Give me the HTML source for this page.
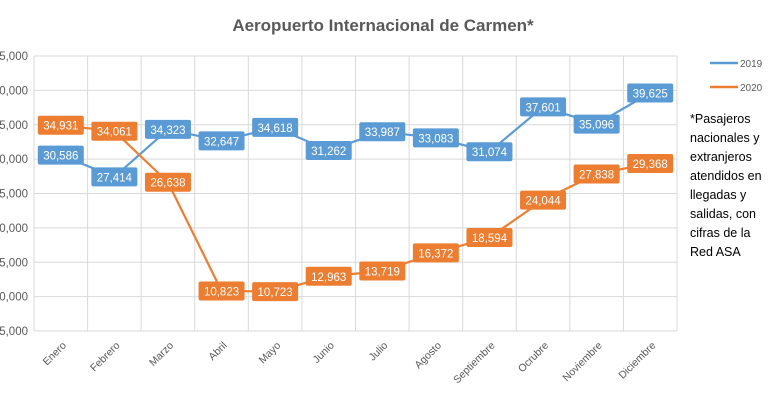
<!DOCTYPE html>
<html><head><meta charset="utf-8"><style>
body{margin:0;background:#fff;font-family:"Liberation Sans",sans-serif}
svg text{font-family:"Liberation Sans",sans-serif}
</style></head><body>
<svg width="768" height="400" id="c">
<text x="383" y="31" text-anchor="middle" font-size="17" font-weight="bold" fill="#595959">Aeropuerto  Internacional  de  Carmen*</text>
<g id="grid"></g><g id="lines"></g><g id="labels"></g>
<g>
<line x1="710" y1="63" x2="738" y2="63" stroke="#5b9bd5" stroke-width="2.5"/>
<text x="740" y="67" font-size="10" fill="#595959">2019</text>
<line x1="710" y1="87" x2="738" y2="87" stroke="#ed7d31" stroke-width="2.5"/>
<text x="740" y="91" font-size="10" fill="#595959">2020</text>
</g>
<g font-size="12.5" fill="#000">
<text x="690" y="123">*Pasajeros</text><text x="690" y="142">nacionales y</text>
<text x="690" y="161">extranjeros</text><text x="690" y="180">atendidos en</text>
<text x="690" y="199">llegadas y</text><text x="690" y="218">salidas, con</text>
<text x="690" y="237">cifras de la</text><text x="690" y="256">Red ASA</text>
</g>
</svg>
<script>
const months=["Enero","Febrero","Marzo","Abril","Mayo","Junio","Julio","Agosto","Septiembre","Ocrubre","Noviembre","Diciembre"];
const s2019=[30586,27414,34323,32647,34618,31262,33987,33083,31074,37601,35096,39625];
const s2020=[34931,34061,26638,10823,10723,12963,13719,16372,18594,24044,27838,29368];
const yTicks=[5000,10000,15000,20000,25000,30000,35000,40000,45000];
const NS="http://www.w3.org/2000/svg";
const L=34,R=677,T=56,B=331,ymin=5000,ymax=45000;
const bw=(R-L)/months.length;
const x=i=>L+bw*(i+0.5);
const y=v=>B-(v-ymin)/(ymax-ymin)*(B-T);
function mk(t,a,p,txt){const e=document.createElementNS(NS,t);for(const k in a)e.setAttribute(k,a[k]);if(txt!=null)e.textContent=txt;p.appendChild(e);return e;}
const g=document.getElementById('grid'),gl=document.getElementById('lines'),gb=document.getElementById('labels');
yTicks.forEach(v=>{
 const l=mk('line',{x1:L,x2:R,y1:y(v),y2:y(v),stroke:'#d9d9d9','stroke-width':1},g);
 
 
 const t=mk('text',{x:28,y:y(v)+4,'text-anchor':'end','font-size':11.5,fill:'#595959'},g,v.toLocaleString('en-US'));
 
 
});
for(let i=0;i<=months.length;i++){
 const l=mk('line',{x1:L+bw*i,x2:L+bw*i,y1:T,y2:B,stroke:'#d9d9d9','stroke-width':1},g);
 
 
}
months.forEach((m,i)=>{
 const t=mk('text',{x:x(i)+6,y:B+15,'text-anchor':'end','font-size':10.5,fill:'#595959',transform:`rotate(-45 ${x(i)+6} ${B+15})`},g,m);
 
 
});
[[s2019,'#5b9bd5','2019'],[s2020,'#ed7d31','2020']].forEach(([d,c,n])=>{
 const p=mk('polyline',{points:d.map((v,i)=>x(i)+','+y(v)).join(' '),fill:'none',stroke:c,'stroke-width':2.2},gl);
 
 
 d.forEach((v,i)=>{
  const r=mk('rect',{x:x(i)-23,y:y(v)-9.5,width:46,height:19,rx:2,fill:c},gb);
  
  
  const t=mk('text',{x:x(i),y:y(v)+4.5,'text-anchor':'middle','font-size':11.5,fill:'#fff'},gb,v.toLocaleString('en-US'));
  
  
 });
});
</script>
</body></html>
